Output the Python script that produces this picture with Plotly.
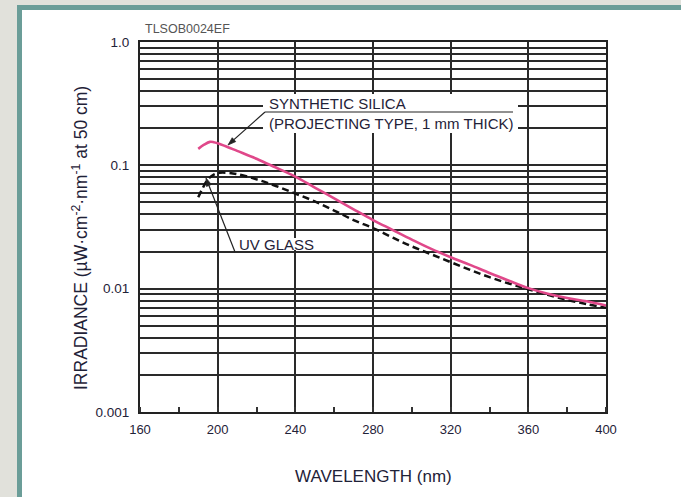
import math
import plotly.graph_objects as go

# ---- data ----
wl_silica = [190, 193, 196, 198, 200, 205, 210, 220, 225, 230, 240, 250, 260, 270, 280,
             290, 300, 310, 320, 330, 340, 350, 360, 370, 380, 390, 400]
irr_silica = [0.136, 0.147, 0.155, 0.154, 0.151, 0.141, 0.131, 0.113, 0.104, 0.096, 0.081,
              0.066, 0.054, 0.044, 0.036, 0.030, 0.025, 0.021, 0.018, 0.0156, 0.0134,
              0.0116, 0.0101, 0.0091, 0.0084, 0.0079, 0.0073]

wl_uv = [190, 192, 195, 198, 201, 205, 210, 220, 230, 240, 250, 260, 270, 280, 290, 300,
         310, 320, 330, 340, 350, 360, 370, 380, 390, 400]
irr_uv = [0.055, 0.064, 0.077, 0.084, 0.087, 0.087, 0.085, 0.077, 0.068, 0.059, 0.051,
          0.043, 0.036, 0.031, 0.026, 0.022, 0.019, 0.0164, 0.0142, 0.0124, 0.0110,
          0.0099, 0.0089, 0.0081, 0.0075, 0.0070]

x_ticks = [160, 200, 240, 280, 320, 360, 400]
y_major = [0.001, 0.01, 0.1, 1.0]
y_major_text = ["0.001", "0.01", "0.1", "1.0"]

# ---- layout geometry ----
W, H = 681, 497
L, R, T, B = 140, 606, 42, 412
PW, PH = R - L, B - T


def px(x):
    return (x - L) / PW


def py(y):
    return (B - y) / PH


FONT = "Liberation Sans, Arial, Helvetica, sans-serif"
TXT = "#1f2238"
GRID = "#2a2a2a"
INK = "#222222"

# gridline values: every 1..9 per decade, labels only on decades
y_grid = []
y_grid_text = []
for d in [0.001, 0.01, 0.1]:
    for m in range(1, 10):
        v = round(d * m, 6)
        y_grid.append(v)
        y_grid_text.append(y_major_text[y_major.index(d)] if m == 1 else "")
y_grid.append(1.0)
y_grid_text.append("1.0")

fig = go.Figure()
fig.add_trace(go.Scatter(x=wl_uv, y=irr_uv, mode="lines",
                         line=dict(color="#111111", width=2.5, dash="7px,4px", shape="spline"),
                         name="UV GLASS", showlegend=False))
fig.add_trace(go.Scatter(x=wl_silica, y=irr_silica, mode="lines",
                         line=dict(color="#e0488a", width=2.6, shape="spline"),
                         name="SYNTHETIC SILICA", showlegend=False))


def leader(tail, tip, head_len=8.0, head_half=2.6):
    """Leader line with a filled arrow head, as paper-referenced shapes (pixel input)."""
    (x0, y0), (x1, y1) = tail, tip
    dx, dy = x1 - x0, y1 - y0
    n = math.hypot(dx, dy)
    ux, uy = dx / n, dy / n
    bx, by = x1 - head_len * ux, y1 - head_len * uy
    nx, ny = -uy, ux
    p1 = (bx + head_half * nx, by + head_half * ny)
    p2 = (bx - head_half * nx, by - head_half * ny)
    line = dict(type="line", xref="paper", yref="paper", x0=px(x0), y0=py(y0),
                x1=px(bx), y1=py(by), line=dict(color=INK, width=1.2), layer="above")
    head = dict(type="path", xref="paper", yref="paper",
                path=f"M {px(x1)} {py(y1)} L {px(p1[0])} {py(p1[1])} L {px(p2[0])} {py(p2[1])} Z",
                fillcolor=INK, line=dict(color=INK, width=0.8), layer="above")
    return [line, head]


shapes = [
    # teal frame and white panel
    dict(type="rect", xref="paper", yref="paper", x0=px(17), x1=px(700), y0=py(520), y1=py(5),
         fillcolor="#6b9d98", line=dict(width=0), layer="below"),
    dict(type="rect", xref="paper", yref="paper", x0=px(22), x1=px(700), y0=py(520), y1=py(10),
         fillcolor="#ffffff", line=dict(width=0), layer="below"),
    # white label backgrounds
    dict(type="rect", xref="paper", yref="paper", x0=px(263), x1=px(518), y0=py(133), y1=py(94),
         fillcolor="#ffffff", line=dict(width=0), layer="above"),
    dict(type="rect", xref="paper", yref="paper", x0=px(235), x1=px(318), y0=py(250), y1=py(238),
         fillcolor="#ffffff", line=dict(width=0), layer="above"),
    # underline of silica label
    dict(type="line", xref="paper", yref="paper", x0=px(265), x1=px(513), y0=py(112), y1=py(112),
         line=dict(color=INK, width=1.2), layer="above"),
]
shapes += leader((265, 112), (228, 145))
shapes += leader((235, 252), (206, 178))

annotations = [
    dict(text="TLSOB0024EF", x=px(143), y=py(29), xref="paper", yref="paper",
         xanchor="left", yanchor="middle", showarrow=False,
         font=dict(family=FONT, size=12.5, color="#555555")),
    dict(text="SYNTHETIC SILICA", x=px(267), y=py(103), xref="paper", yref="paper",
         xanchor="left", yanchor="middle", showarrow=False,
         font=dict(family=FONT, size=15, color=TXT)),
    dict(text="(PROJECTING TYPE, 1 mm THICK)", x=px(267), y=py(123), xref="paper", yref="paper",
         xanchor="left", yanchor="middle", showarrow=False,
         font=dict(family=FONT, size=15, color=TXT)),
    dict(text="UV GLASS", x=px(276.5), y=py(245), xref="paper", yref="paper",
         xanchor="center", yanchor="middle", showarrow=False,
         font=dict(family=FONT, size=15, color=TXT)),
    # axis titles
    dict(text="WAVELENGTH (nm)", x=px(373), y=py(476), xref="paper", yref="paper",
         xanchor="center", yanchor="middle", showarrow=False,
         font=dict(family=FONT, size=17, color=TXT)),
    dict(text="IRRADIANCE (µW·cm<sup>-2</sup>·nm<sup>-1</sup> at 50 cm)", x=px(80), y=py(238),
         xref="paper", yref="paper", xanchor="center", yanchor="middle", textangle=-90,
         showarrow=False, font=dict(family=FONT, size=17.5, color=TXT)),
]

fig.update_layout(
    width=W, height=H,
    margin=dict(l=L, r=W - R, t=T, b=H - B, pad=0),
    paper_bgcolor="#e1e1db",
    plot_bgcolor="#ffffff",
    shapes=shapes,
    annotations=annotations,
    font=dict(family=FONT, color=TXT),
    xaxis=dict(range=[160, 400], tickvals=x_ticks, ticks="", showgrid=True,
               gridcolor=GRID, gridwidth=1.6, zeroline=False,
               showline=True, linecolor=INK, linewidth=2, mirror=True,
               tickfont=dict(family=FONT, size=13, color=TXT), ticklabelstandoff=4,
               minor=dict(dtick=20, tick0=160, ticks="inside", ticklen=5,
                          tickwidth=1.5, tickcolor="#333333", showgrid=False)),
    yaxis=dict(type="log", range=[-3, 0], tickvals=y_grid, ticktext=y_grid_text, ticks="",
               showgrid=True, gridcolor=GRID, gridwidth=1.5, zeroline=False,
               showline=True, linecolor=INK, linewidth=2, mirror=True,
               tickfont=dict(family=FONT, size=13.5, color=TXT), ticklabelstandoff=6),
)

fig.write_html("out.html")
